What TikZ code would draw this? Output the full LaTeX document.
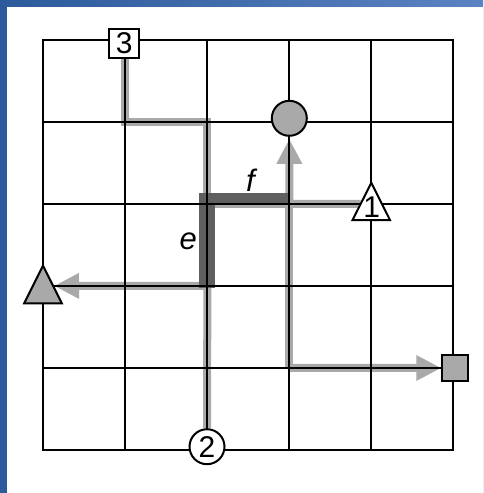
\documentclass[tikz,border=0pt]{standalone}
\usepackage{fontspec}
\setmainfont{Liberation Sans}
\usetikzlibrary{arrows.meta,calc}
\pgfdeclarelayer{bg}
\pgfdeclarelayer{paths}
\pgfdeclarelayer{gridl}
\pgfsetlayers{bg,paths,gridl,main}
\definecolor{lg}{HTML}{A9A9A9}
\definecolor{dg}{HTML}{5F5F5F}
\definecolor{blA}{HTML}{2C5A9A}
\definecolor{blB}{HTML}{5B83C3}
\begin{document}
\begin{tikzpicture}[x=1pt,y=-1pt,
  lbl/.style={inner sep=0pt, font=\fontsize{30}{32}\selectfont},
  nd/.style={draw=black, line width=2pt, inner sep=0pt, font=\fontsize{30}{32}\selectfont},
  tri/.style={draw=black, line width=2pt, line join=miter},
  gp/.style={draw=lg, line width=8pt},
  tipped/.style={-{Triangle[length=25pt,width=24pt]}},
  gridline/.style={draw=black, line width=2pt},
  ebar/.style={fill=dg}]
\useasboundingbox (0,0) rectangle (483,493);
\begin{pgfonlayer}{bg}
  \shade[left color=blA, right color=blB] (0,0) rectangle (483,493);
  \fill[white] (7,7) rectangle (483,493);
\end{pgfonlayer}
% grid points
\foreach \i in {0,...,5}{
  \foreach \j in {0,...,5}{
    \coordinate (g\i\j) at ({43.4+82*\i},{39.7+82.06*\j});
  }
}
% nodes
\node[nd, fill=white, minimum width=30pt, minimum height=29pt] (n3) at (124.3,43.3) {3};
\node[nd, circle, fill=lg, minimum size=35pt] (c) at (289.3,118.3) {};
\node[nd, circle, fill=white, minimum size=35pt] (n2) at (207,446.7) {2};
\node[nd, fill=lg, minimum size=26pt] (sq) at (455.3,368) {};
\draw[tri, fill=white] (371.3,182.7) -- (390,220) -- (352.6,220) -- cycle;
\node[lbl] (n1) at (371.6,207.5) {1};
\draw[tri, fill=lg] (43,265.7) -- (61.8,303.3) -- (24.2,303.3) -- cycle;
\coordinate (ltip) at (54,285.9);
\coordinate (t1w) at (360.7,203.9);
\node[lbl, font=\fontsize{31}{33}\selectfont\itshape] (le) at (188.3,241.5) {e};
\node[lbl, font=\fontsize{31}{33}\selectfont\itshape] (lf) at (250.5,180) {f};
% grid
\begin{pgfonlayer}{gridl}
  \draw[gridline] (g00) rectangle (g55);
  \foreach \k in {1,...,4}{
    \draw[gridline] (g\k0) -- (g\k5);
    \draw[gridline] (g0\k) -- (g5\k);
  }
\end{pgfonlayer}
% routes
\begin{pgfonlayer}{paths}
  \draw[gp] (n3.south -| g10) -- (g11) -- (g21) -- (g22) -- (g32);
  \draw[gp, tipped, shorten >=2pt] (g32) -- (c.south);
  \draw[gp] (t1w) -- (g22) -- (g23);
  \draw[gp, tipped] (g23) -- (ltip);
  \draw[gp] (n2.north) -- (g23);
  \draw[gp] (g32) -- (g34);
  \draw[gp, tipped] (g34) -- (sq.west);
  \fill[ebar] (199.3,193.3) rectangle (290,205);
  \fill[ebar] (199.3,193.3) rectangle (215,288);
\end{pgfonlayer}
\end{tikzpicture}
\end{document}
